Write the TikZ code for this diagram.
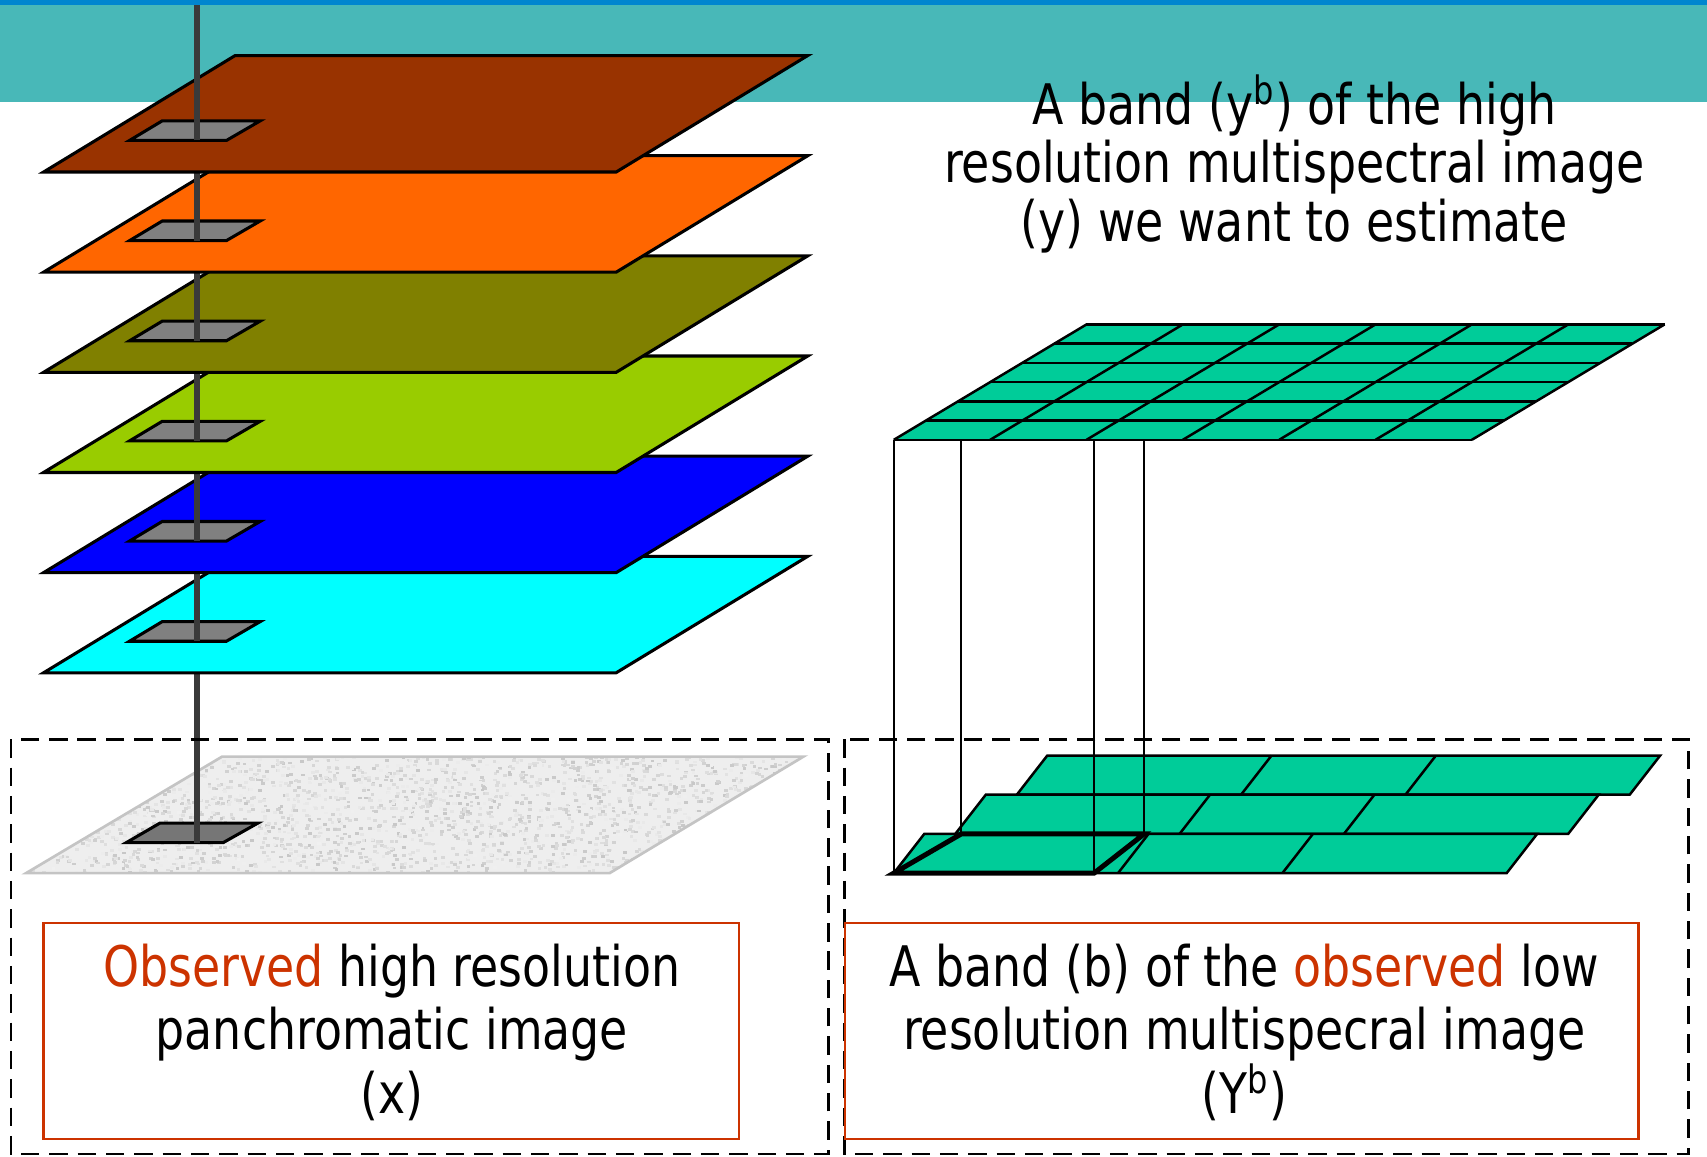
\documentclass[tikz,border=0pt]{standalone}
\usepackage{fontspec}
\setmainfont{DejaVu Sans}[FakeStretch=0.82]
\definecolor{bandBrown}{HTML}{993300}
\definecolor{bandOrange}{HTML}{FF6600}
\definecolor{bandOlive}{HTML}{808000}
\definecolor{bandLime}{HTML}{99CC00}
\definecolor{bandBlue}{HTML}{0000FF}
\definecolor{bandCyan}{HTML}{00FFFF}
\definecolor{gridTeal}{HTML}{00CC99}
\definecolor{accentRed}{HTML}{CC3300}
\definecolor{headTeal}{HTML}{48B8B8}
\definecolor{headBlue}{HTML}{0086CF}
\definecolor{poleGrey}{HTML}{3A3A3A}
\definecolor{panFill}{HTML}{EEEEEE}
\definecolor{panEdge}{HTML}{C4C4C4}
\definecolor{pixGrey}{HTML}{808080}
\definecolor{pixDark}{HTML}{767676}
\begin{document}
\begin{tikzpicture}[x=0.01cm,y=-0.01cm,
  layer/.style={draw=black,line width=0.8pt,line join=miter},
  pixel/.style={draw=black,fill=pixGrey,line width=0.8pt},
  pole/.style={draw=poleGrey,line width=1.5pt},
  gridline/.style={draw=black,line width=0.65pt},
  boldcell/.style={draw=black,line width=1.3pt,line join=miter},
  proj/.style={draw=black,line width=0.45pt},
  frame/.style={draw=black,dashed,dash pattern=on 4.8pt off 2.6pt,line width=0.7pt},
  caption/.style={draw=accentRed,line width=0.6pt},
  lbl/.style={font=\fontsize{14.6}{17}\selectfont,anchor=base,inner sep=0pt}]
\useasboundingbox (0,0) rectangle (1568,1062);

% header strip
\fill[headTeal] (0,0) rectangle (1568,93.4);
\fill[headBlue] (0,0) rectangle (1568,4.6);

% ---------- panchromatic plane with speckle texture ----------
\fill[panFill] (24,802) -- (560,802) -- (738,695) -- (204,695) -- cycle;
\begin{scope}
  \clip (24,802) -- (560,802) -- (738,695) -- (204,695) -- cycle;
  \pgfmathsetseed{11}
  \foreach \i in {1,...,2600}{
    \pgfmathsetmacro\rx{24+rnd*714}
    \pgfmathsetmacro\ry{694+rnd*108}
    \pgfmathsetmacro\g{6+rnd*16}
    \fill[black!\g] (\rx,\ry) rectangle ++(3.4,2.6);
  }
\end{scope}
\draw[panEdge,line width=0.7pt] (24,802) -- (560,802) -- (738,695) -- (204,695) -- cycle;
\draw[pixel,fill=pixDark] (116,774) -- (205,774) -- (237,756) -- (147,756) -- cycle;
\draw[pole] (181,774) -- (181,5);

% ---------- stack of spectral bands (bottom one first) ----------
\foreach \yb/\col in {618/bandCyan,526/bandBlue,434/bandLime,342/bandOlive,250/bandOrange,158/bandBrown}{
  \draw[layer,fill=\col] (40,\yb) -- (566,\yb) -- (742,\yb-107) -- (216,\yb-107) -- cycle;
  \draw[pixel] (119,\yb-29) -- (208,\yb-29) -- (239,\yb-47) -- (149,\yb-47) -- cycle;
  \draw[pole] (181,\yb-29) -- (181,5);
}

% ---------- high resolution band: 6x6 grid ----------
\coordinate (hA) at (821,404);
\coordinate (hB) at (883,404);
\coordinate (hC) at (1005,404);
\coordinate (hD) at (1051,404);
\fill[gridTeal] (821,404) -- (1352,404) -- (1529,298) -- (998,298) -- cycle;
\foreach \k in {0,...,6}{
  \draw[gridline] (821+88.5*\k,404) -- (998+88.5*\k,298);
  \draw[gridline] (821+29.5*\k,404-17.667*\k) -- (1352+29.5*\k,404-17.667*\k);
}

% ---------- low resolution band: three staggered rows ----------
\foreach \r in {2,1,0}{
  \pgfmathsetmacro\xo{821+56.5*\r}
  \pgfmathsetmacro\yo{802-36*\r}
  \draw[gridline,fill=gridTeal] (\xo,\yo) -- (\xo+563,\yo) -- (\xo+591,\yo-36) -- (\xo+28,\yo-36) -- cycle;
  \draw[gridline] (\xo+206,\yo) -- (\xo+234,\yo-36);
  \draw[gridline] (\xo+357,\yo) -- (\xo+385,\yo-36);
}
\coordinate (lA) at (821,802);
\coordinate (lB) at (883,766);
\coordinate (lC) at (1005,802);
\coordinate (lD) at (1051,766);
\draw[boldcell] (lA) -- (lC) -- (lD) -- (lB) -- cycle;

% projection lines
\draw[proj] (hA) -- (lA);
\draw[proj] (hB) -- (lB);
\draw[proj] (hC) -- (lC);
\draw[proj] (hD) -- (lD);

% ---------- frames and captions ----------
\draw[frame] (10,679) rectangle (761,1060);
\draw[frame] (776,679) rectangle (1551,1060);
\draw[caption] (40,848) rectangle (679,1046);
\draw[caption] (776,848) rectangle (1505,1046);

\node[lbl] (h1) at (1189,114) {A band (y\textsuperscript{b}) of the high};
\node[lbl] (h2) at (1189,168) {resolution multispectral image};
\node[lbl] (h3) at (1189,222) {(y) we want to estimate};

\node[lbl] (p1) at (360,906) {\textcolor{accentRed}{Observed} high resolution};
\node[lbl] (p2) at (360,964) {panchromatic image};
\node[lbl] (p3) at (360,1023) {(x)};

\node[lbl] (m1) at (1143,906) {A band (b) of the \textcolor{accentRed}{observed} low};
\node[lbl] (m2) at (1143,964) {resolution multispecral image};
\node[lbl] (m3) at (1143,1023) {(Y\textsuperscript{b})};
\end{tikzpicture}
\end{document}
